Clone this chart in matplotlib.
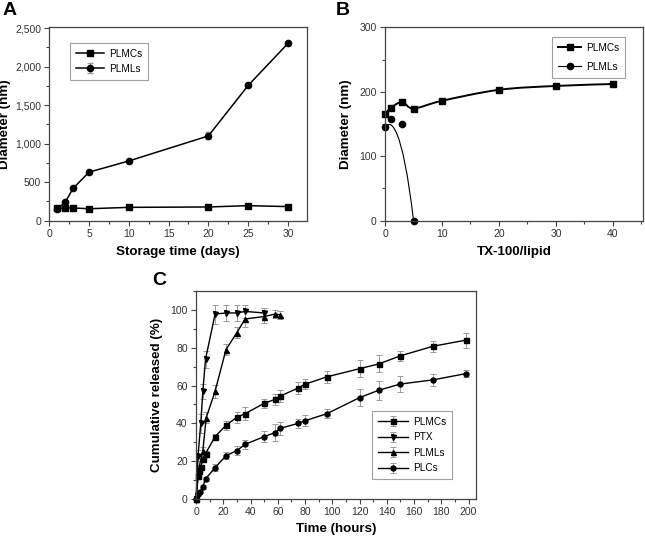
import numpy as np
import matplotlib
matplotlib.use("Agg")
import matplotlib.pyplot as plt
from matplotlib.path import Path
from matplotlib.patches import PathPatch
from matplotlib.ticker import MultipleLocator, FuncFormatter

plt.rcParams['font.family'] = ['Liberation Sans', 'DejaVu Sans']

# --- painel A: estabilidade durante armazenamento
dias = [1, 2, 3, 5, 10, 20, 25, 30]
a_plmcs = [161, 165, 165, 155, 173, 178, 195, 183]
a_plmls = [150, 240, 420, 630, 775, 1100, 1755, 2300]
a_plmls_err = [10, 15, 15, 15, 15, 45, 25, 20]

# --- painel B: resistencia ao TX-100
tx = [0, 1, 3, 5, 10, 20, 30, 40]
b_plmcs = [165, 175, 184, 174, 186, 203, 209, 212]
tx_plmls = [0, 1, 3, 5]
b_plmls = [145, 158, 150, 0]

# --- painel C: liberacao cumulativa
t_plmcs = [0, 1.5, 2.5, 3.5, 5, 7, 14, 22, 30, 36, 50, 58, 62, 75, 80, 96,
           120, 134, 150, 174, 198]
c_plmcs = [0, 12, 15, 17, 21, 24, 33, 39, 43.2, 45.1, 50.6, 52.7, 54.5, 58.7,
           60.7, 64.6, 68.9, 71.4, 75.7, 80.8, 84.0]
c_plmcs_err = [0, 1, 1, 1, 1.5, 1.5, 1.5, 2.5, 3, 3.5, 2.5, 3, 3, 3, 2.5, 3,
               4.5, 4.5, 2.5, 3, 4]
t_ptx = [0, 1.5, 3.5, 5, 7, 14, 22, 30, 36, 50]
c_ptx = [0, 23, 40, 57, 74, 97.8, 98.4, 98.4, 99.2, 98.4]
c_ptx_err = [0, 3, 5, 4, 4.5, 5, 4, 4, 3.5, 2.5]
t_plmls = [0, 2, 5, 7.5, 14, 22, 30, 36, 50, 58, 62]
c_plmls = [0, 16, 25.5, 43, 57, 79, 88, 95.2, 96.5, 97.8, 97.4]
c_plmls_err = [0, 2, 2, 3, 3.5, 3, 3, 4, 3.5, 2, 2]
t_plcs = [0, 1.5, 3, 5, 7, 14, 22, 30, 36, 50, 58, 62, 75, 80, 96, 120, 134,
          150, 174, 198]
c_plcs = [0, 2.6, 3.9, 6.5, 10.6, 16.6, 22.9, 25.6, 28.9, 33.0, 35.1, 37.4,
          40.0, 41.4, 45.1, 53.6, 57.5, 60.8, 63.0, 66.3]
c_plcs_err = [0, 0.8, 0.8, 1, 1.2, 2, 2, 2.5, 2.5, 3, 4.5, 3.5, 2.5, 3, 2.5,
              4.5, 5, 4, 3, 2]

cinza = '#9a9a9a'
borda = '#444444'


def estilo(ax):
    # eixos no estilo Origin: ticks para fora, menores, bordas cinza
    for s in ax.spines.values():
        s.set_color(borda)
        s.set_linewidth(0.9)
    ax.tick_params(which='both', direction='out', colors=borda,
                   labelcolor='#333333', labelsize=7.5, width=0.8, pad=2.5)
    ax.tick_params(which='major', length=3.5)
    ax.tick_params(which='minor', length=2)


def legenda(ax, ls, hl, **kw):
    leg = ax.legend(frameon=True, fancybox=False, fontsize=7.2,
                    handlelength=hl, borderpad=0.6, labelspacing=ls,
                    handletextpad=0.5, **kw)
    leg.get_frame().set_edgecolor('#888888')
    leg.get_frame().set_linewidth(0.8)
    return leg


def catmull(xs, ys):
    # curva suave passando pelos pontos (spline de Catmull-Rom em Bezier)
    p = np.column_stack([xs, ys]).astype(float)
    n = len(p)
    verts = [p[0]]
    codes = [Path.MOVETO]
    for i in range(n - 1):
        p0 = p[i - 1] if i > 0 else p[i]
        p1, p2 = p[i], p[i + 1]
        p3 = p[i + 2] if i + 2 < n else p[i + 1]
        verts += [p1 + (p2 - p0) / 6, p2 - (p3 - p1) / 6, p2]
        codes += [Path.CURVE4] * 3
    return Path(verts, codes)


def bezier(xs, ys):
    # B-spline de 4 pontos de controle
    verts = np.column_stack([xs, ys]).astype(float)
    return Path(verts, [Path.MOVETO, Path.CURVE4, Path.CURVE4, Path.CURVE4])


fig = plt.figure(figsize=(6.45, 5.38), dpi=100)
axA = fig.add_axes([0.0764, 0.5898, 0.3996, 0.3595])
axB = fig.add_axes([0.597, 0.5898, 0.400, 0.3595])
axC = fig.add_axes([0.3039, 0.0725, 0.4341, 0.3866])
rotulo = dict(fontsize=9.6, fontweight='bold')

# A
axA.plot(dias, a_plmcs, '-s', color='k', lw=1.1, ms=4, label='PLMCs')
axA.errorbar(dias, a_plmls, yerr=a_plmls_err, fmt='-o', color='k', lw=1.1,
             ms=4.5, ecolor=cinza, elinewidth=0.8, capsize=2, label='PLMLs')
axA.set_xlim(0, 32.4)
axA.set_ylim(0, 2510)
axA.xaxis.set_major_locator(MultipleLocator(5))
axA.xaxis.set_minor_locator(MultipleLocator(2.5))
axA.yaxis.set_major_locator(MultipleLocator(500))
axA.yaxis.set_minor_locator(MultipleLocator(250))
axA.yaxis.set_major_formatter(FuncFormatter(lambda v, p: f'{int(v):,}'))
axA.set_xlabel('Storage time (days)', labelpad=5, **rotulo)
axA.set_ylabel('Diameter (nm)', labelpad=3, **rotulo)
estilo(axA)
legenda(axA, 0.5, 2.8, loc='upper left', bbox_to_anchor=(0.06, 0.945))

# B
axB.add_patch(PathPatch(catmull(tx, b_plmcs), fill=False, color='k', lw=1.4))
axB.add_patch(PathPatch(bezier(tx_plmls, b_plmls), fill=False, color='k',
                        lw=0.8))
axB.plot(tx, b_plmcs, 's', color='k', ms=4.2, clip_on=False)
axB.plot(tx_plmls, b_plmls, 'o', color='k', ms=4.5, clip_on=False)
axB.plot([], [], '-s', color='k', lw=1.4, ms=4.2, label='PLMCs')
axB.plot([], [], '-o', color='k', lw=0.8, ms=4.5, label='PLMLs')
axB.set_xlim(0, 45.3)
axB.set_ylim(0, 300)
axB.xaxis.set_major_locator(MultipleLocator(10))
axB.xaxis.set_minor_locator(MultipleLocator(5))
axB.yaxis.set_major_locator(MultipleLocator(100))
axB.yaxis.set_minor_locator(MultipleLocator(50))
axB.set_xlabel('TX-100/lipid', labelpad=5, **rotulo)
axB.set_ylabel('Diameter (nm)', labelpad=5, **rotulo)
estilo(axB)
legenda(axB, 0.9, 2.3, loc='upper right', bbox_to_anchor=(0.95, 0.976))

# C
series = [
    (t_plmcs, c_plmcs, c_plmcs_err, 's', 'PLMCs'),
    (t_ptx, c_ptx, c_ptx_err, 'v', 'PTX'),
    (t_plmls, c_plmls, c_plmls_err, '^', 'PLMLs'),
    (t_plcs, c_plcs, c_plcs_err, 'o', 'PLCs'),
]
for t, c, e, m, nome in series:
    axC.errorbar(t, c, yerr=e, fmt='-' + m, color='k', lw=1.0, ms=3.6,
                 ecolor=cinza, elinewidth=0.7, capsize=2.2, capthick=0.7,
                 label=nome, clip_on=False)
axC.set_xlim(0, 205.5)
axC.set_ylim(0, 110)
axC.xaxis.set_major_locator(MultipleLocator(20))
axC.xaxis.set_minor_locator(MultipleLocator(10))
axC.yaxis.set_major_locator(MultipleLocator(20))
axC.yaxis.set_minor_locator(MultipleLocator(10))
axC.set_xlabel('Time (hours)', labelpad=4, **rotulo)
axC.set_ylabel('Cumulative released (%)', labelpad=5, **rotulo)
estilo(axC)
legenda(axC, 0.55, 3.0, loc='lower right', bbox_to_anchor=(0.933, 0.072))

# letras dos paineis
fig.text(0.004, 0.981, 'A', fontsize=14, fontweight='bold', va='center')
fig.text(0.521, 0.981, 'B', fontsize=14, fontweight='bold', va='center')
fig.text(0.236, 0.478, 'C', fontsize=14, fontweight='bold', va='center')

fig.savefig('out.png', dpi=100)
